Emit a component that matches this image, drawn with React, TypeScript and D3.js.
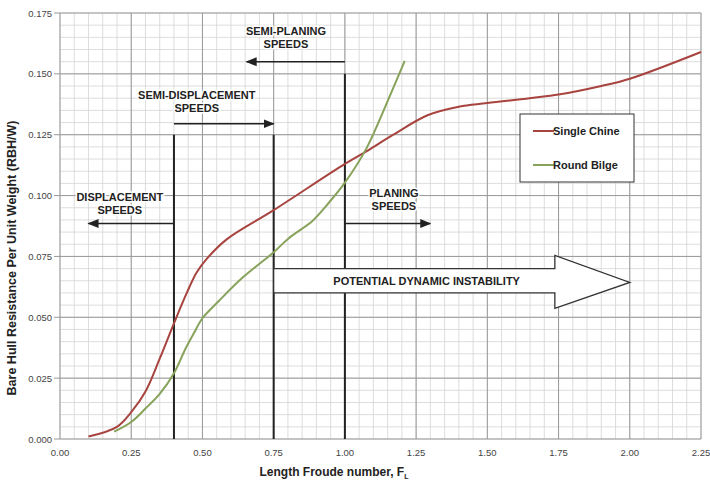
import { useEffect, useRef } from 'react';
import * as d3 from 'd3';

const singleChineX = [0.1, 0.2, 0.25, 0.3, 0.35, 0.4, 0.445, 0.48, 0.515, 0.585, 0.75, 1.0, 1.08, 1.17, 1.29, 1.4, 1.5, 1.75, 1.9, 2.0, 2.25];
const singleChineY = [0.001, 0.005, 0.011, 0.0195, 0.033, 0.0475, 0.06, 0.0685, 0.074, 0.082, 0.094, 0.113, 0.1185, 0.125, 0.133, 0.1365, 0.138, 0.1415, 0.145, 0.148, 0.159];

const roundBilgeX = [0.19, 0.25, 0.3, 0.35, 0.4, 0.44, 0.47, 0.5, 0.56, 0.643, 0.75, 0.8, 0.888, 0.936, 1.0, 1.077, 1.146, 1.21];
const roundBilgeY = [0.003, 0.007, 0.0125, 0.0185, 0.027, 0.037, 0.0435, 0.0496, 0.057, 0.0665, 0.0767, 0.0822, 0.0898, 0.096, 0.1053, 0.1197, 0.1377, 0.1553];

const xTicks = [0, 0.25, 0.5, 0.75, 1.0, 1.25, 1.5, 1.75, 2.0, 2.25];
const yTicks = [0, 0.025, 0.05, 0.075, 0.1, 0.125, 0.15, 0.175];

const seriesNames = ['Single Chine', 'Round Bilge'];
const seriesColors = ['#a8443f', '#87a25a'];

function App() {
  const ref = useRef<SVGSVGElement>(null);

  useEffect(() => {
    const svg = d3.select(ref.current);
    svg.selectAll('*').remove();

    const x = d3.scaleLinear().domain([0, 2.25]).range([60, 701]);
    const y = d3.scaleLinear().domain([0, 0.175]).range([439, 13]);
    const font = 'Liberation Sans, Arial, sans-serif';

    svg.append('rect').attr('width', 710).attr('height', 486).attr('fill', '#fff');

    // minor grid
    const g = svg.append('g');
    d3.range(0, 2.2501, 0.05).forEach(v => {
      g.append('line').attr('x1', x(v)).attr('x2', x(v)).attr('y1', y(0)).attr('y2', y(0.175))
        .attr('stroke', '#d4d4d4').attr('stroke-width', 0.8);
    });
    d3.range(0, 0.17501, 0.005).forEach(v => {
      g.append('line').attr('x1', x(0)).attr('x2', x(2.25)).attr('y1', y(v)).attr('y2', y(v))
        .attr('stroke', '#d4d4d4').attr('stroke-width', 0.8);
    });
    // major grid
    xTicks.forEach(v => {
      g.append('line').attr('x1', x(v)).attr('x2', x(v)).attr('y1', y(0)).attr('y2', y(0.175))
        .attr('stroke', '#999').attr('stroke-width', 1);
    });
    yTicks.forEach(v => {
      g.append('line').attr('x1', x(0) - 6).attr('x2', x(2.25)).attr('y1', y(v)).attr('y2', y(v))
        .attr('stroke', '#999').attr('stroke-width', 1);
    });

    // tick labels
    yTicks.forEach(v => {
      svg.append('text').attr('x', 52).attr('y', y(v) + 3.5).attr('text-anchor', 'end')
        .attr('font-family', font).attr('font-size', 9.5).attr('fill', '#444').text(v.toFixed(3));
    });
    xTicks.forEach(v => {
      svg.append('text').attr('x', x(v)).attr('y', 456).attr('text-anchor', 'middle')
        .attr('font-family', font).attr('font-size', 9.5).attr('fill', '#444').text(v.toFixed(2));
    });

    // axis titles
    svg.append('text').attr('transform', 'translate(16,258) rotate(-90)').attr('text-anchor', 'middle')
      .attr('font-family', font).attr('font-size', 12.5).attr('font-weight', 'bold').attr('fill', '#222')
      .text('Bare Hull Resistance Per Unit Weight (RBH/W)');
    const xt = svg.append('text').attr('x', 334).attr('y', 476).attr('text-anchor', 'middle')
      .attr('font-family', font).attr('font-size', 12).attr('font-weight', 'bold').attr('fill', '#222');
    xt.append('tspan').text('Length Froude number, F');
    xt.append('tspan').attr('font-size', 7).attr('dy', 3).text('L');

    // vertical regime lines
    const vlines: [number, number][] = [[0.4, 0.125], [0.75, 0.125], [1.0, 0.15]];
    vlines.forEach(([vx, top]) => {
      svg.append('line').attr('x1', x(vx)).attr('x2', x(vx)).attr('y1', y(top)).attr('y2', y(0))
        .attr('stroke', '#222').attr('stroke-width', 2);
    });

    // curves
    const line = d3.line<[number, number]>().x(d => x(d[0])).y(d => y(d[1])).curve(d3.curveCatmullRom.alpha(0.5));
    const sc = singleChineX.map((v, i) => [v, singleChineY[i]] as [number, number]);
    const rb = roundBilgeX.map((v, i) => [v, roundBilgeY[i]] as [number, number]);
    [sc, rb].forEach((data, i) => {
      svg.append('path').attr('d', line(data)).attr('fill', 'none')
        .attr('stroke', seriesColors[i]).attr('stroke-width', 2);
    });

    // small arrows
    svg.append('defs').append('marker').attr('id', 'ah').attr('viewBox', '0 0 10 10')
      .attr('refX', 9).attr('refY', 5).attr('markerWidth', 7).attr('markerHeight', 7)
      .attr('orient', 'auto-start-reverse').append('path').attr('d', 'M0,1 L10,5 L0,9 Z').attr('fill', '#222');

    const arrows: [number, number, number][] = [
      [1.0, 0.655, 0.155],
      [0.4, 0.75, 0.1295],
      [0.4, 0.1, 0.0885],
      [1.0, 1.3, 0.0885],
    ];
    arrows.forEach(([x1, x2, yy]) => {
      svg.append('line').attr('x1', x(x1)).attr('x2', x(x2)).attr('y1', y(yy)).attr('y2', y(yy))
        .attr('stroke', '#222').attr('stroke-width', 1.6).attr('marker-end', 'url(#ah)');
    });

    const labels: [string, string, number, number][] = [
      ['SEMI-PLANING', 'SPEEDS', 0.793, 0.166],
      ['SEMI-DISPLACEMENT', 'SPEEDS', 0.48, 0.1397],
      ['DISPLACEMENT', 'SPEEDS', 0.21, 0.0978],
      ['PLANING', 'SPEEDS', 1.172, 0.0994],
    ];
    labels.forEach(([a, b, lx, ly]) => {
      const t = svg.append('text').attr('x', x(lx)).attr('y', y(ly)).attr('text-anchor', 'middle')
        .attr('font-family', font).attr('font-size', 11).attr('font-weight', 'bold').attr('fill', '#222')
        .attr('stroke', '#fff').attr('stroke-width', 3).attr('paint-order', 'stroke');
      t.append('tspan').attr('x', x(lx)).text(a);
      t.append('tspan').attr('x', x(lx)).attr('dy', 13).text(b);
    });

    // big arrow
    const big: [number, number][] = [
      [0.75, 0.070], [1.737, 0.070], [1.737, 0.0754], [2.0, 0.0643],
      [1.737, 0.0537], [1.737, 0.060], [0.75, 0.060],
    ];
    svg.append('path').attr('d', d3.line<[number, number]>().x(d => x(d[0])).y(d => y(d[1]))(big) + 'Z')
      .attr('fill', '#fff').attr('stroke', '#333').attr('stroke-width', 1.3);
    svg.append('text').attr('x', x(1.287)).attr('y', y(0.065) + 4).attr('text-anchor', 'middle')
      .attr('font-family', font).attr('font-size', 11).attr('font-weight', 'bold').attr('fill', '#222')
      .text('POTENTIAL DYNAMIC INSTABILITY');

    // legend
    const lg = svg.append('g').attr('transform', 'translate(520,114)');
    lg.append('rect').attr('width', 114).attr('height', 68).attr('fill', '#fff')
      .attr('stroke', '#333').attr('stroke-width', 1);
    seriesNames.forEach((n, i) => {
      const ly = 17 + i * 34;
      lg.append('line').attr('x1', 13).attr('x2', 34).attr('y1', ly).attr('y2', ly)
        .attr('stroke', seriesColors[i]).attr('stroke-width', 2);
      lg.append('text').attr('x', 33).attr('y', ly + 4).attr('font-family', font)
        .attr('font-size', 11).attr('font-weight', 'bold').attr('fill', '#222').text(n);
    });
  }, []);

  return (
    <svg ref={ref} width={710} height={486} style={{ position: 'absolute', left: 0, top: 0 }} />
  );
}

export default App;
